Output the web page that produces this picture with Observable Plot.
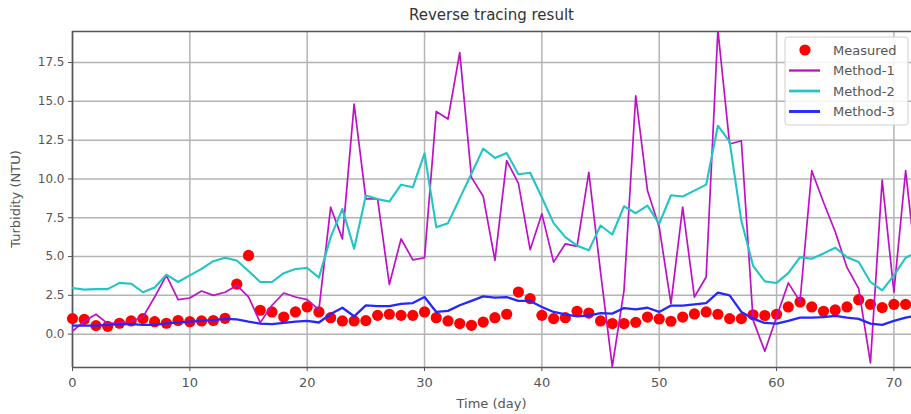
<!DOCTYPE html>
<html>
<head>
<meta charset="utf-8">
<script src="https://cdn.jsdelivr.net/npm/d3@7"></script>
<script src="https://cdn.jsdelivr.net/npm/@observablehq/plot@0.6"></script>
<style>
  html, body { margin: 0; padding: 0; background: #fff; }
  svg { display: block; }
</style>
</head>
<body>
<div id="chart"></div>
<script>
const title = "Reverse tracing result";
const xLabel = "Time (day)";
const yLabel = "Turbidity (NTU)";
const seriesNames = ["Measured", "Method-1", "Method-2", "Method-3"];
const xTicks = [0, 10, 20, 30, 40, 50, 60, 70];
const yTicks = [0, 2.5, 5, 7.5, 10, 12.5, 15, 17.5];

const measured = [1.0, 0.95, 0.55, 0.5, 0.7, 0.85, 1.0, 0.8, 0.7, 0.88, 0.8, 0.85, 0.88, 1.02, 3.22, 5.07, 1.54, 1.43, 1.1, 1.43,
  1.75, 1.43, 1.06, 0.85, 0.85, 0.87, 1.21, 1.28, 1.21, 1.21, 1.43, 1.06, 0.85, 0.68, 0.57, 0.78, 1.06, 1.28, 2.71, 2.29,
  1.21, 1.0, 1.06, 1.47, 1.36, 0.85, 0.68, 0.68, 0.76, 1.1, 0.98, 0.83, 1.1, 1.3, 1.43, 1.28, 1.0, 1.0, 1.25, 1.2,
  1.28, 1.75, 2.07, 1.75, 1.47, 1.56, 1.75, 2.22, 1.92, 1.71, 1.92, 1.92];

const method1 = [0.19, 0.83, 1.28, 0.68, 0.72, 0.83, 1.1, 2.39, 3.79, 2.22, 2.33, 2.78, 2.5, 2.7, 3.14, 2.4, 0.74, 1.86, 2.65, 2.39,
  2.22, 1.58, 8.18, 6.14, 14.82, 8.71, 8.71, 3.2, 6.14, 4.79, 4.92, 14.35, 13.86, 18.14, 10.1, 8.88, 4.75, 11.18, 9.72, 5.44,
  7.75, 4.64, 5.82, 5.65, 10.42, 4.0, -2.1, 2.82, 15.36, 9.25, 6.89, 1.97, 8.18, 2.39, 3.68, 19.6, 12.25, 12.46, 0.9, -1.1,
  1.1, 3.3, 2.1, 10.53, 8.5, 6.6, 4.3, 2.93, -1.85, 9.93, 2.71, 10.53, 3.7];

const method2 = [2.97, 2.87, 2.9, 2.9, 3.3, 3.25, 2.7, 3.0, 3.83, 3.36, 3.79, 4.2, 4.7, 4.92, 4.75, 4.07, 3.36, 3.36, 3.93, 4.2,
  4.26, 3.64, 6.25, 8.07, 5.5, 8.93, 8.7, 8.54, 9.63, 9.46, 11.65, 6.89, 7.15, 8.75, 10.35, 11.95, 11.35, 11.67, 10.3, 10.4,
  8.8, 7.15, 6.25, 5.7, 5.4, 7.0, 6.42, 8.24, 7.79, 8.28, 7.1, 8.95, 8.87, 9.25, 9.63, 13.43, 12.4, 7.3, 4.4, 3.4,
  3.3, 3.93, 4.96, 4.86, 5.2, 5.57, 4.96, 4.65, 3.36, 2.82, 3.79, 4.92, 5.3];

const method3 = [0.55, 0.55, 0.55, 0.6, 0.65, 0.65, 0.6, 0.6, 0.7, 0.75, 0.8, 0.85, 0.9, 0.98, 0.95, 0.8, 0.68, 0.65, 0.72, 0.8,
  0.85, 0.75, 1.3, 1.7, 1.15, 1.85, 1.8, 1.8, 1.95, 2.0, 2.39, 1.43, 1.5, 1.86, 2.14, 2.43, 2.35, 2.39, 2.14, 2.14,
  1.75, 1.43, 1.28, 1.15, 1.2, 1.36, 1.32, 1.68, 1.6, 1.7, 1.43, 1.84, 1.84, 1.92, 2.0, 2.67, 2.5, 1.43, 1.0, 0.72,
  0.68, 0.85, 1.06, 1.06, 1.1, 1.17, 1.06, 0.98, 0.68, 0.6, 0.85, 1.06, 1.2];

const colors = ["#ff0000", "#bf10c8", "#22c4c4", "#2626ff"];
const widths = [0, 1.7, 2.1, 2.3];

const toPts = (arr) => arr.map((v, i) => ({day: i, value: v}));
const mPts = toPts(measured);
const lineSets = [method1, method2, method3].map(toPts);

const W = 911, H = 414;
const mL = 72, mR = 0, mT = 31, mB = 47;
const yMin = -2.15, yMax = 19.5;

const fontFam = "'DejaVu Sans', sans-serif";

const plot = Plot.plot({
  width: W,
  height: H,
  marginLeft: mL,
  marginRight: mR,
  marginTop: mT,
  marginBottom: mB,
  style: {fontFamily: fontFam, fontSize: "12px", color: "#555", background: "#fff"},
  x: {domain: [0, 71.5]},
  y: {domain: [yMin, yMax]},
  marks: [
    Plot.gridX(xTicks, {stroke: "#b4b4b4", strokeOpacity: 1, strokeWidth: 1.5}),
    Plot.gridY(yTicks, {stroke: "#b4b4b4", strokeOpacity: 1, strokeWidth: 1.5}),
    Plot.ruleX([0], {stroke: "#555", strokeWidth: 1.6}),
    Plot.ruleY([yMin, yMax], {stroke: "#555", strokeWidth: 1.6}),
    Plot.dot(mPts, {x: "day", y: "value", r: 5.6, fill: colors[0], stroke: "none"}),
    ...lineSets.map((pts, k) => Plot.line(pts, {x: "day", y: "value", stroke: colors[k + 1], strokeWidth: widths[k + 1], clip: true})),
    Plot.axisX({ticks: xTicks, tickSize: 4, tickPadding: 6, label: null, stroke: "#555", fill: "#555", fontSize: 13}),
    Plot.axisY({ticks: yTicks, tickSize: 4, tickPadding: 4, tickFormat: d3.format(".1f"), label: null, stroke: "#555", fill: "#555", fontSize: 12})
  ]
});

document.getElementById("chart").appendChild(plot);

const svg = d3.select(plot);
const cx = (mL + W - mR) / 2;

svg.append("text")
  .attr("x", cx).attr("y", 20)
  .attr("text-anchor", "middle")
  .attr("font-family", fontFam).attr("font-size", 15)
  .attr("fill", "#333")
  .text(title);

svg.append("text")
  .attr("x", cx).attr("y", 408)
  .attr("text-anchor", "middle")
  .attr("font-family", fontFam).attr("font-size", 13)
  .attr("fill", "#555")
  .text(xLabel);

svg.append("text")
  .attr("transform", `translate(20, ${(mT + H - mB) / 2}) rotate(-90)`)
  .attr("text-anchor", "middle")
  .attr("font-family", fontFam).attr("font-size", 13)
  .attr("fill", "#555")
  .text(yLabel);

// Legend
const lg = svg.append("g");
lg.append("rect")
  .attr("x", 785).attr("y", 37).attr("width", 123).attr("height", 88)
  .attr("rx", 3).attr("fill", "#fff").attr("fill-opacity", 0.85)
  .attr("stroke", "#d0d0d0");
seriesNames.forEach((name, i) => {
  const yy = 50 + i * 20.5;
  if (i === 0) {
    lg.append("circle").attr("cx", 805).attr("cy", yy).attr("r", 5.6).attr("fill", colors[0]);
  } else {
    lg.append("line").attr("x1", 789).attr("x2", 820).attr("y1", yy).attr("y2", yy)
      .attr("stroke", colors[i]).attr("stroke-width", widths[i] + 0.6);
  }
  lg.append("text").attr("x", 833).attr("y", yy).attr("dy", "0.35em")
    .attr("text-anchor", "start")
    .attr("font-family", fontFam).attr("font-size", 13).attr("fill", "#555")
    .text(name);
});
</script>
</body>
</html>
